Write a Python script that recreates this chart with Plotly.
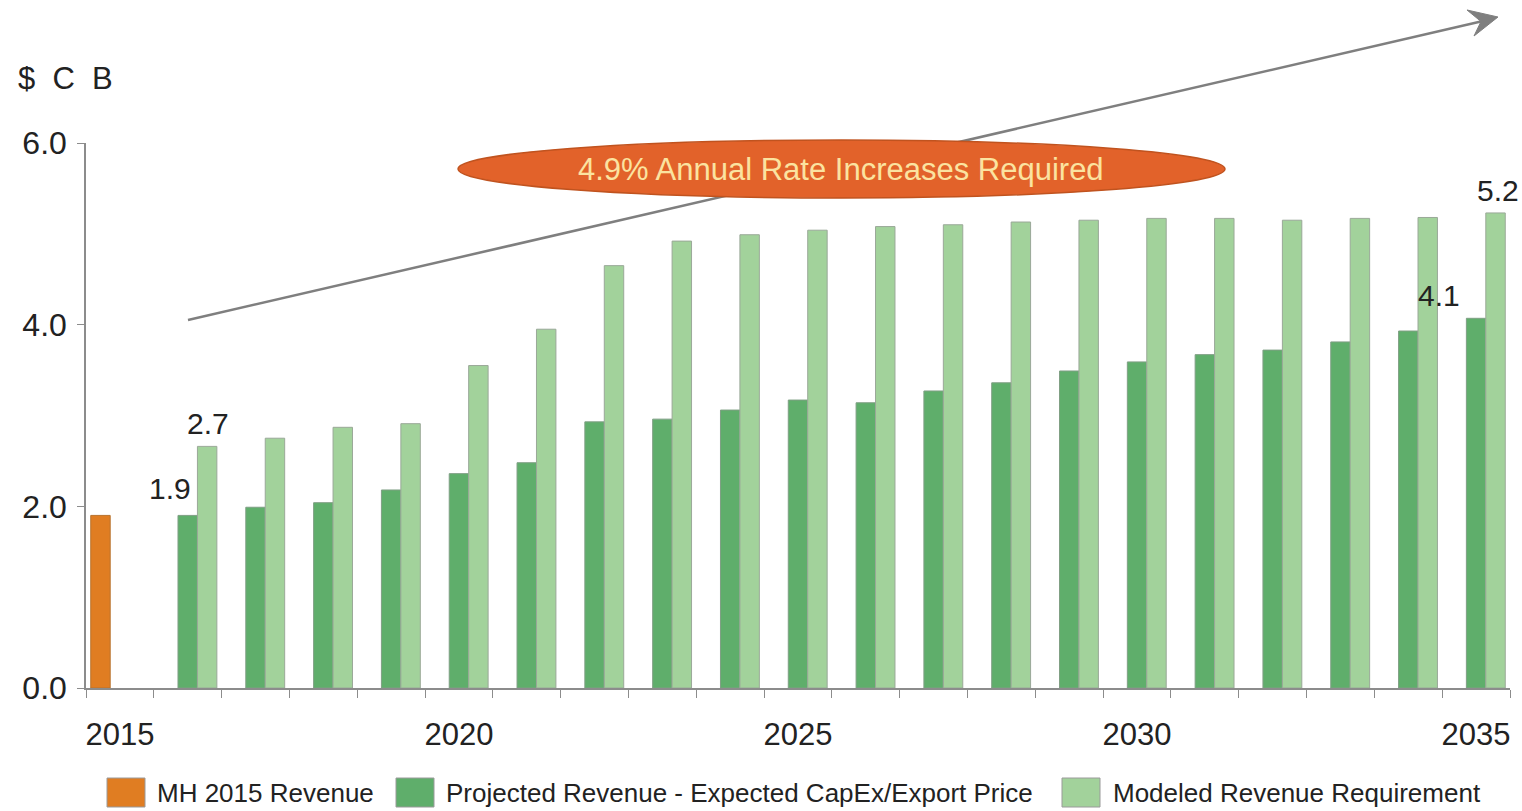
import plotly.graph_objects as go

# Revenue in billions of Canadian dollars
mh_years = [2015]
mh_revenue = [1.90]

proj_years = list(range(2016, 2036))
projected_revenue = [1.90, 1.99, 2.04, 2.18, 2.36, 2.48, 2.93, 2.96, 3.06, 3.17,
                     3.14, 3.27, 3.36, 3.49, 3.59, 3.67, 3.72, 3.81, 3.93, 4.07]
modeled_requirement = [2.66, 2.75, 2.87, 2.91, 3.55, 3.95, 4.65, 4.92, 4.99, 5.04,
                       5.08, 5.10, 5.13, 5.15, 5.17, 5.17, 5.15, 5.17, 5.18, 5.23]

year_ticks = [2015, 2020, 2025, 2030, 2035]
y_ticks = [0, 2, 4, 6]

series_names = ["MH 2015 Revenue",
                "Projected Revenue - Expected CapEx/Export Price",
                "Modeled Revenue Requirement"]
colors = ["#E07D22", "#5FAE6B", "#A2D29B"]

FONT = "Liberation Sans, Arial, sans-serif"
W, H = 1522, 811
ML, MR, MT, MB = 86, 12, 143, 123
PW, PH = W - ML - MR, H - MT - MB


def paper(x, y):
    """Pixel position on the page -> paper coordinates."""
    return (x - ML) / PW, (H - MB - y) / PH


fig = go.Figure()
fig.add_trace(go.Bar(x=mh_years, y=mh_revenue, name=series_names[0],
                     marker=dict(color=colors[0], line=dict(color="#B8732E", width=1))))
fig.add_trace(go.Bar(x=proj_years, y=projected_revenue, name=series_names[1],
                     marker=dict(color=colors[1], line=dict(color="#7F9F84", width=1))))
fig.add_trace(go.Bar(x=proj_years, y=modeled_requirement, name=series_names[2],
                     marker=dict(color=colors[2], line=dict(color="#9AA898", width=1))))

shapes = []
annotations = []

# trend arrow (drawn beneath the callout ellipse)
x0, y0 = paper(188, 320)
x1, y1 = paper(1483, 21)
shapes.append(dict(type="line", xref="paper", yref="paper", x0=x0, y0=y0, x1=x1, y1=y1,
                   line=dict(color="#7F7F7F", width=2.5), layer="above"))
head = [paper(1498, 17), paper(1467, 10), paper(1481, 21.5), paper(1474, 36)]
path = "M {} {} L {} {} L {} {} L {} {} Z".format(*[f"{v:.5f}" for p in head for v in p])
shapes.append(dict(type="path", xref="paper", yref="paper", path=path,
                   fillcolor="#7F7F7F", line=dict(color="#7F7F7F", width=1), layer="above"))

# callout ellipse
ex0, ey0 = paper(458, 198)
ex1, ey1 = paper(1225, 140)
shapes.append(dict(type="circle", xref="paper", yref="paper", x0=ex0, y0=ey0, x1=ex1, y1=ey1,
                   fillcolor="#E2622A", line=dict(color="#C0531F", width=1.5), layer="above"))
cx, cy = paper(841, 170)
annotations.append(dict(xref="paper", yref="paper", x=cx, y=cy, showarrow=False,
                        text="4.9% Annual Rate Increases Required",
                        font=dict(family=FONT, size=31, color="#FBE3A0"),
                        xanchor="center", yanchor="middle"))

# unit label
ux, uy = paper(16, 78)
annotations.append(dict(xref="paper", yref="paper", x=ux, y=uy, showarrow=False,
                        text="$\u00a0\u00a0C\u00a0\u00a0B", font=dict(family=FONT, size=31, color="#222222"),
                        xanchor="left", yanchor="middle"))

# value labels
label_font = dict(family=FONT, size=30, color="#222222")
annotations.append(dict(x=proj_years[0], y=projected_revenue[0], text=f"{projected_revenue[0]:.1f}",
                        showarrow=False, xanchor="right", yanchor="bottom",
                        xshift=5, yshift=8, font=label_font))
annotations.append(dict(x=proj_years[0], y=modeled_requirement[0], text=f"{modeled_requirement[0]:.1f}",
                        showarrow=False, xanchor="center", yanchor="bottom",
                        xshift=20, yshift=4, font=label_font))
annotations.append(dict(x=proj_years[-1], y=projected_revenue[-1], text=f"{projected_revenue[-1]:.1f}",
                        showarrow=False, xanchor="right", yanchor="bottom",
                        xshift=-14, yshift=4, font=label_font))
annotations.append(dict(x=proj_years[-1], y=modeled_requirement[-1], text=f"{modeled_requirement[-1]:.1f}",
                        showarrow=False, xanchor="center", yanchor="bottom",
                        xshift=22, yshift=4, font=label_font))

# legend
legend_items = [(107, 155), (396, 444), (1062, 1111)]
for (sx, tx), name, col in zip(legend_items, series_names, colors):
    a0, b0 = paper(sx, 807)
    a1, b1 = paper(sx + 38, 778)
    shapes.append(dict(type="rect", xref="paper", yref="paper", x0=a0, y0=b0, x1=a1, y1=b1,
                       fillcolor=col, line=dict(color="#9A9A9A", width=1)))
    lx, ly = paper(tx, 793)
    annotations.append(dict(xref="paper", yref="paper", x=lx, y=ly, showarrow=False,
                            text=name, xanchor="left", yanchor="middle",
                            font=dict(family=FONT, size=26, color="#222222")))

fig.update_layout(
    width=W, height=H,
    margin=dict(l=ML, r=MR, t=MT, b=MB),
    paper_bgcolor="white", plot_bgcolor="white",
    barmode="group", bargap=0.14, bargroupgap=0,
    showlegend=False,
    font=dict(family=FONT, color="#222222"),
    shapes=shapes, annotations=annotations,
    xaxis=dict(range=[2014.5, 2035.5], tickvals=year_ticks, ticks="",
               tickfont=dict(size=31, color="#222222"), ticklabelstandoff=18,
               showline=True, linecolor="#8C8C8C", linewidth=1.5,
               showgrid=False, zeroline=False,
               minor=dict(tickmode="linear", tick0=2014.5, dtick=1, ticks="outside",
                          ticklen=8, tickcolor="#8C8C8C", tickwidth=1.2, showgrid=False)),
    yaxis=dict(range=[0, 6], tickvals=y_ticks, tickformat=".1f", ticks="outside",
               ticklen=7, tickcolor="#8C8C8C", tickwidth=1.2,
               tickfont=dict(size=32, color="#222222"), ticklabelstandoff=4,
               showline=True, linecolor="#8C8C8C", linewidth=1.5,
               showgrid=False, zeroline=False),
)

fig.write_html("out.html")
